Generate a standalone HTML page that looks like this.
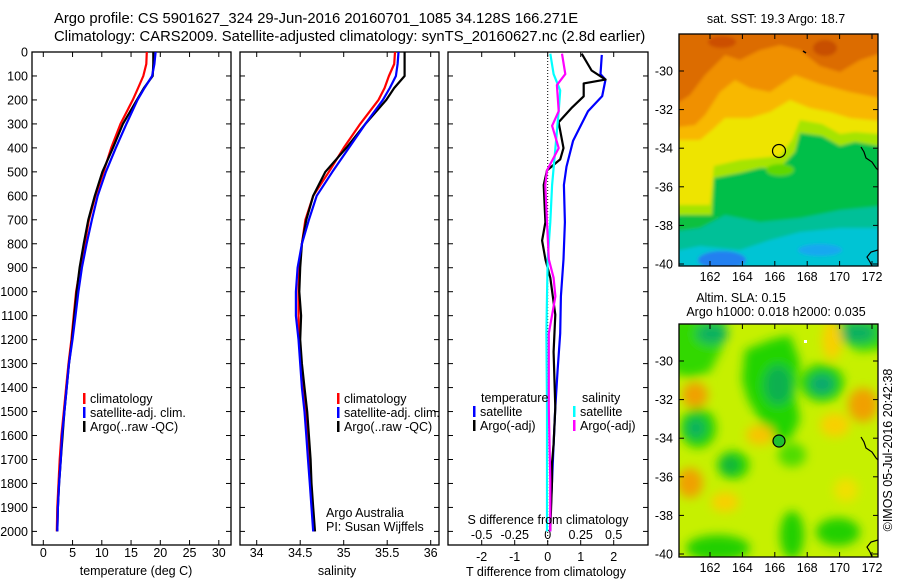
<!DOCTYPE html>
<html><head><meta charset="utf-8"><style>
html,body{margin:0;padding:0;background:#fff;}
svg{display:block;font-family:"Liberation Sans",sans-serif;}
text{fill:#000;}
</style></head><body>
<svg id="fig" width="900" height="580" viewBox="0 0 900 580" xmlns="http://www.w3.org/2000/svg">
<defs>
<clipPath id="c1"><rect x="32" y="52" width="199" height="493"/></clipPath>
<clipPath id="c2"><rect x="240" y="52" width="199" height="493"/></clipPath>
<clipPath id="c3"><rect x="448" y="52" width="200" height="493"/></clipPath>
<clipPath id="cm1"><rect x="679" y="34" width="199" height="232"/></clipPath>
<clipPath id="cm2"><rect x="679" y="324" width="199" height="233"/></clipPath>
<filter id="bl1" x="-20%" y="-20%" width="140%" height="140%"><feGaussianBlur stdDeviation="1.5"/></filter>
<filter id="bl2" x="-50%" y="-50%" width="200%" height="200%"><feGaussianBlur stdDeviation="5"/></filter>
</defs>
<text x="54" y="23" font-size="14.8">Argo profile: CS 5901627_324 29-Jun-2016 20160701_1085 34.128S 166.271E</text>
<text x="54" y="41" font-size="14.8">Climatology: CARS2009. Satellite-adjusted climatology: synTS_20160627.nc (2.8d earlier)</text>
<g id="g1"></g>
<g id="g2"></g>
<g id="g3"></g>

<!-- SST map -->
<g clip-path="url(#cm1)">
<g filter="url(#bl1)">
<rect x="670" y="25" width="220" height="250" fill="#00bf48"/>
<polygon fill="#a6e400" points="670,25 890,25 890,148 855,142 840,146 822,136 800,133 795,152 780,168 760,168 740,173 714,178 712,215 670,215"/>
<polygon fill="#eee400" points="670,25 890,25 890,135 855,132 840,134 822,124 800,120 792,140 780,156 760,158 740,160 714,166 710,205 670,205"/>
<polygon fill="#f8b800" points="670,25 890,25 890,122 850,118 830,112 810,108 790,100 770,112 750,118 725,118 712,130 700,140 670,140"/>
<polygon fill="#f09000" points="670,25 890,25 890,100 850,92 820,84 795,75 770,92 750,88 735,80 720,92 705,115 695,125 670,128"/>
<polygon fill="#dc6c00" points="670,25 890,25 890,50 860,60 840,72 820,66 800,50 780,45 760,50 740,60 725,55 705,75 690,95 670,108"/>
<ellipse cx="722" cy="42" rx="14" ry="6" fill="#cc5000"/>
<ellipse cx="825" cy="48" rx="12" ry="8" fill="#c85000"/>
<ellipse cx="780" cy="170" rx="14" ry="6" fill="#60d800"/>
<ellipse cx="705" cy="225" rx="28" ry="10" fill="#10c040"/>
<polygon fill="#00c098" points="670,232 700,228 725,215 760,222 800,218 840,210 890,205 890,275 670,275"/>
<polygon fill="#00c4d4" points="670,252 700,246 740,250 770,240 800,232 840,228 890,228 890,275 670,275"/>
<ellipse cx="722" cy="260" rx="24" ry="9" fill="#2080f0"/>
<ellipse cx="820" cy="250" rx="22" ry="6" fill="#18a8f0"/>
</g>
<path d="M861,147 L864,152 L866,158 L872,162 L876,168 L878,170" stroke="#000" stroke-width="1.2" fill="none"/>
<path d="M878,250 L871,252 L867,257 L870,262 L872,266" stroke="#000" stroke-width="1.2" fill="none"/>
<path d="M803,51 L806,53" stroke="#000" stroke-width="1.5"/>
<circle cx="779" cy="151" r="6.5" fill="none" stroke="#000" stroke-width="1.2"/>
</g>
<!-- SLA map -->
<g clip-path="url(#cm2)">
<rect x="670" y="315" width="220" height="250" fill="#c6f000"/>
<g filter="url(#bl2)">
<polygon fill="#30d800" points="670,318 728,318 722,348 710,372 690,378 670,372"/>
<ellipse cx="712" cy="334" rx="16" ry="10" fill="#10b060"/>
<polygon fill="#30d800" points="835,318 890,318 890,348 860,352 835,338"/>
<ellipse cx="858" cy="333" rx="18" ry="10" fill="#10b060"/>
<polygon fill="#20d400" points="745,350 770,340 790,335 800,362 795,395 800,420 790,440 770,440 760,420 748,400 742,380"/>
<ellipse cx="778" cy="385" rx="14" ry="20" fill="#10b050"/>
<ellipse cx="822" cy="383" rx="22" ry="19" fill="#20d000"/>
<ellipse cx="822" cy="384" rx="12" ry="10" fill="#10a870"/>
<ellipse cx="698" cy="428" rx="18" ry="20" fill="#20d000"/>
<ellipse cx="696" cy="428" rx="9" ry="10" fill="#10b060"/>
<ellipse cx="733" cy="465" rx="16" ry="14" fill="#20d000"/>
<ellipse cx="730" cy="465" rx="8" ry="8" fill="#10b040"/>
<ellipse cx="718" cy="548" rx="32" ry="13" fill="#20d000"/>
<ellipse cx="792" cy="535" rx="12" ry="24" fill="#20d000"/>
<ellipse cx="838" cy="532" rx="22" ry="14" fill="#20d000"/>
<ellipse cx="792" cy="455" rx="14" ry="12" fill="#50dc00"/>
<ellipse cx="695" cy="395" rx="13" ry="13" fill="#f0a000"/>
<ellipse cx="863" cy="405" rx="15" ry="17" fill="#f0a000"/>
<ellipse cx="690" cy="483" rx="13" ry="15" fill="#f0a000"/>
<ellipse cx="725" cy="502" rx="14" ry="10" fill="#f8d000"/>
<ellipse cx="832" cy="340" rx="10" ry="20" fill="#f8d000"/>
<ellipse cx="760" cy="435" rx="14" ry="10" fill="#f8c400"/>
<ellipse cx="835" cy="425" rx="15" ry="12" fill="#f8d000"/>
<ellipse cx="846" cy="490" rx="12" ry="12" fill="#f0e000"/>
</g>
<path d="M861,437 L864,442 L866,448 L872,452 L876,458 L878,460" stroke="#000" stroke-width="1.2" fill="none"/>
<path d="M878,540 L871,542 L867,547 L870,552 L872,557" stroke="#000" stroke-width="1.2" fill="none"/>
<rect x="804" y="340" width="3" height="3" fill="#fff"/>
<circle cx="779" cy="441" r="6" fill="#20c030" stroke="#000" stroke-width="1.2"/>
</g>
<g id="gm"></g>
<text x="776" y="23" font-size="12.5" text-anchor="middle">sat. SST: 19.3 Argo: 18.7</text>
<text x="741" y="302" font-size="12.5" text-anchor="middle">Altim. SLA: 0.15</text>
<text x="776" y="316" font-size="12.5" text-anchor="middle">Argo h1000: 0.018 h2000: 0.035</text>
<text x="0" y="0" font-size="12.5" text-anchor="middle" transform="translate(892,450) rotate(-90)">©IMOS 05-Jul-2016 20:42:38</text>
</svg>
<script>
// ---- data ----
const profDepths = [0,50,100,150,200,300,400,500,600,700,800,900,1000,1100,1200,1300,1400,1500,1600,1700,1800,1900,2000];
const tempClim = [17.7,17.6,17.1,16.2,15.3,13.2,11.6,10.3,8.9,7.8,7.1,6.3,5.6,5.2,4.8,4.3,3.9,3.5,3.1,2.8,2.6,2.4,2.3];
const tempSat  = [19.2,19.0,18.6,17.3,16.1,14.2,12.4,10.7,9.3,8.3,7.4,6.6,6.0,5.5,5.0,4.4,4.0,3.6,3.2,3.0,2.7,2.5,2.4];
const tempArgo = [18.8,18.8,18.7,17.2,16.0,13.6,11.9,10.1,8.8,7.7,6.9,6.2,5.7,5.3,4.9,4.4,4.0,3.6,3.3,3.0,2.7,2.5,2.4];
const salClim = [35.59,35.58,35.52,35.47,35.40,35.19,35.00,34.83,34.65,34.56,34.52,34.49,34.48,34.48,34.49,34.51,34.53,34.56,34.59,34.61,34.62,34.64,34.66];
const salSat  = [35.63,35.62,35.60,35.53,35.45,35.25,35.06,34.87,34.69,34.60,34.52,34.47,34.45,34.45,34.48,34.50,34.52,34.55,34.57,34.59,34.61,34.63,34.65];
const salArgo = [35.70,35.70,35.70,35.58,35.49,35.25,35.03,34.79,34.65,34.57,34.52,34.50,34.49,34.51,34.50,34.52,34.55,34.58,34.60,34.62,34.63,34.65,34.67];
const dTsatDepth = [12,92,115,184,247,370,478,555,710,865,1019,1174,1328,1483,1637,1792,1946,2000];
const dTsat      = [1.64,1.60,1.75,1.65,1.22,0.77,0.57,0.49,0.52,0.48,0.40,0.38,0.30,0.23,0.18,0.13,0.08,0.08];
const dTargoDepth = [7,77,115,131,185,231,293,401,448,494,555,710,787,865,942,1096,1251,1483,1637,1715,1792,1993];
const dTargo      = [1.03,1.33,1.75,1.09,1.09,0.74,0.33,0.48,0.38,-0.02,-0.12,-0.07,-0.17,-0.07,0.08,0.23,0.18,0.23,0.18,0.13,0.13,0.08];
const dSsatDepth = [7,92,160,247,401,555,710,865,1019,1174,1483,1792,2000];
const dSsat      = [0.02,0.045,0.095,0.083,0.058,0.033,0.02,0.0,-0.005,-0.01,-0.005,-0.005,-0.005];
const dSargoDepth = [7,92,138,247,308,401,494,555,710,865,942,1019,1174,1483,1792,2000];
const dSargo      = [0.108,0.133,0.07,0.083,0.033,0.083,-0.005,-0.018,-0.005,0.008,0.045,0.058,0.008,0.008,0.02,0.02];
const depthTicks = [0,100,200,300,400,500,600,700,800,900,1000,1100,1200,1300,1400,1500,1600,1700,1800,1900,2000];
const tempTicks = [0,5,10,15,20,25,30];
const salTicks = [34,34.5,35,35.5,36];
const dTTicks = [-2,-1,0,1,2];
const dSTicks = [-0.5,-0.25,0,0.25,0.5];
const dSTickLabels = ['-0.5','-0.25','0','0.25','0.5'];
const latTicks = [-30,-32,-34,-36,-38,-40];
const lonTicks = [162,164,166,168,170,172];

const NS='http://www.w3.org/2000/svg';
function mk(parent,tag,attrs,txt){const e=document.createElementNS(NS,tag);for(const k in attrs)e.setAttribute(k,attrs[k]);if(txt!==undefined)e.textContent=txt;parent.appendChild(e);return e;}
const yD = d => 52 + d*0.2397;
const xT = t => 43.3 + t*5.85;
const xS = s => 256.7 + (s-34)*87;
const xDT = t => 547.7 + t*33;
const xDS = s => xDT(s*4);

function panel(g,x0,x1,clip){
  const r=mk(g,'rect',{x:x0,y:52,width:x1-x0,height:493,fill:'none',stroke:'#000','stroke-width':1.3});
  
  
  depthTicks.forEach(d=>{
    mk(g,'line',{x1:x0,x2:x0+5,y1:yD(d),y2:yD(d),stroke:'#000','stroke-width':1});
    mk(g,'line',{x1:x1-5,x2:x1,y1:yD(d),y2:yD(d),stroke:'#000','stroke-width':1});
  });
}
function xticks(g,vals,fx,labels,y){
  vals.forEach((v,i)=>{
    const x=fx(v);
    mk(g,'line',{x1:x,x2:x,y1:52,y2:57,stroke:'#000'});
    mk(g,'line',{x1:x,x2:x,y1:540,y2:545,stroke:'#000'});
    const t=mk(g,'text',{x:x,y:y,'font-size':12.5,'text-anchor':'middle'},labels?labels[i]:String(v));
    
    
  });
}
function line(g,clip,depths,vals,fx,color,name,w){
  const pts=depths.map((d,i)=>fx(vals[i]).toFixed(1)+','+yD(d).toFixed(1)).join(' ');
  const p=mk(g,'polyline',{points:pts,fill:'none',stroke:color,'stroke-width':w||2.2,'clip-path':'url(#'+clip+')','stroke-linejoin':'round'});
  
  
}
function legend(g,x,y0,items){
  items.forEach((it,i)=>{
    const y=y0+i*14;
    mk(g,'rect',{x:x,y:y-10,width:2.5,height:11,fill:it[0]});
    const t=mk(g,'text',{x:x+7,y:y,'font-size':12.5},it[1]);
    
    
  });
}
// Panel 1
const g1=document.getElementById('g1');
panel(g1,32,231);
depthTicks.forEach(d=>{const t=mk(g1,'text',{x:28,y:yD(d)+4.5,'font-size':12.5,'text-anchor':'end'},String(d));
  
  });
xticks(g1,tempTicks,xT,null,557);
line(g1,'c1',profDepths,tempClim,xT,'#f00','temp-climatology-line');
line(g1,'c1',profDepths,tempArgo,xT,'#000','temp-argo-line');
line(g1,'c1',profDepths,tempSat,xT,'#00f','temp-satellite-line');
legend(g1,83,403,[['#f00','climatology'],['#00f','satellite-adj. clim.'],['#000','Argo(..raw -QC)']]);
let t=mk(g1,'text',{x:136,y:575,'font-size':12.5,'text-anchor':'middle'},'temperature (deg C)');


// Panel 2
const g2=document.getElementById('g2');
panel(g2,240,439);
xticks(g2,salTicks,xS,null,557);
line(g2,'c2',profDepths,salClim,xS,'#f00','sal-climatology-line');
line(g2,'c2',profDepths,salArgo,xS,'#000','sal-argo-line');
line(g2,'c2',profDepths,salSat,xS,'#00f','sal-satellite-line');
legend(g2,337,403,[['#f00','climatology'],['#00f','satellite-adj. clim.'],['#000','Argo(..raw -QC)']]);
t=mk(g2,'text',{x:337,y:575,'font-size':12.5,'text-anchor':'middle'},'salinity');


t=mk(g2,'text',{x:326,y:517,'font-size':12.5},'Argo Australia');


t=mk(g2,'text',{x:326,y:531,'font-size':12.5},'PI: Susan Wijffels');


// Panel 3
const g3=document.getElementById('g3');
panel(g3,448,648);
mk(g3,'line',{x1:xDT(0),x2:xDT(0),y1:52,y2:545,stroke:'#000','stroke-width':1,'stroke-dasharray':'1,2'});
dTTicks.forEach(v=>{const x=xDT(v);mk(g3,'line',{x1:x,x2:x,y1:540,y2:545,stroke:'#000'});mk(g3,'line',{x1:x,x2:x,y1:52,y2:57,stroke:'#000'});
  const tt=mk(g3,'text',{x:x,y:561,'font-size':12.5,'text-anchor':'middle'},String(v));
  
  });
dSTicks.forEach((v,i)=>{const tt=mk(g3,'text',{x:xDS(v),y:539,'font-size':12.5,'text-anchor':'middle'},dSTickLabels[i]);
  
  });
line(g3,'c3',dTsatDepth,dTsat,xDT,'#00f','t-diff-satellite-line');
line(g3,'c3',dTargoDepth,dTargo,xDT,'#000','t-diff-argo-line');
line(g3,'c3',dSsatDepth,dSsat,xDS,'#0ff','s-diff-satellite-line');
line(g3,'c3',dSargoDepth,dSargo,xDS,'#f0f','s-diff-argo-line');
t=mk(g3,'text',{x:481,y:402,'font-size':12.5},'temperature');


t=mk(g3,'text',{x:582,y:402,'font-size':12.5},'salinity');


legend(g3,473,416,[['#00f','satellite'],['#000','Argo(-adj)']]);
legend(g3,573,416,[['#0ff','satellite'],['#f0f','Argo(-adj)']]);
t=mk(g3,'text',{x:548,y:524,'font-size':12.5,'text-anchor':'middle'},'S difference from climatology');


t=mk(g3,'text',{x:546,y:576,'font-size':12.5,'text-anchor':'middle'},'T difference from climatology');


// Map axes
const gm=document.getElementById('gm');
[[34,266,71],[324,557,361]].forEach(([top,bot,y30])=>{
  const fr=mk(gm,'rect',{x:679,y:top,width:199,height:bot-top,fill:'none',stroke:'#000','stroke-width':1.3});
  
  
  latTicks.forEach(la=>{const y=y30+(-30-la)*19.3;
    mk(gm,'line',{x1:679,x2:684,y1:y,y2:y,stroke:'#000'});mk(gm,'line',{x1:873,x2:878,y1:y,y2:y,stroke:'#000'});
    const tt=mk(gm,'text',{x:673,y:y+4.5,'font-size':12.5,'text-anchor':'end'},String(la));
    
    });
  lonTicks.forEach(lo=>{const x=710+(lo-162)*16.2;
    mk(gm,'line',{x1:x,x2:x,y1:top,y2:top+5,stroke:'#000'});mk(gm,'line',{x1:x,x2:x,y1:bot-5,y2:bot,stroke:'#000'});
    const tt=mk(gm,'text',{x:x,y:bot+15,'font-size':12.5,'text-anchor':'middle'},String(lo));
    
    });
});
</script>
</body></html>
